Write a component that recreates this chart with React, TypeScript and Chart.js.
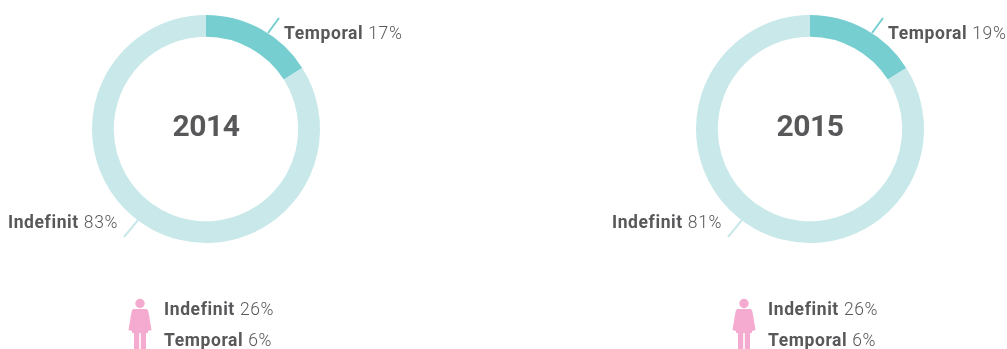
import React, { useEffect, useRef } from "react";
import { Chart, registerables } from "chart.js";

Chart.register(...registerables);

const years = ["2014", "2015"];
const categories = ["Temporal", "Indefinit"];
const temporalShare = [17, 19];
const indefinitShare = [83, 81];
const temporalDrawn = [16, 16];
const indefinitDrawn = [84, 84];
const womenIndefinit = [26, 26];
const womenTemporal = [6, 6];

const TEAL = "#76CED0";
const LIGHT = "#C8E8E9";
const TEXT = "#58585A";
const PINK = "#F5ABCF";
const FONT = "Roboto, sans-serif";

function pair(ctx: any, x: number, y: number, bold: string, value: string, alignRight = false) {
  ctx.textBaseline = "alphabetic";
  ctx.textAlign = "left";
  ctx.fillStyle = TEXT;
  const bf = `700 17.5px ${FONT}`;
  const vf = `300 17.5px ${FONT}`;
  ctx.letterSpacing = "0.6px";
  ctx.font = bf;
  const bw = ctx.measureText(bold).width;
  ctx.font = vf;
  const vw = ctx.measureText(value).width;
  const gap = 5;
  const sx = alignRight ? x - bw - gap - vw : x;
  ctx.font = bf;
  ctx.fillText(bold, sx, y);
  ctx.font = vf;
  ctx.fillText(value, sx + bw + gap, y);
  ctx.letterSpacing = "0px";
}

function woman(ctx: any, cx: number, top: number) {
  ctx.fillStyle = PINK;
  ctx.beginPath();
  ctx.arc(cx, top + 4.5, 4.7, 0, Math.PI * 2);
  ctx.fill();
  ctx.beginPath();
  ctx.moveTo(cx - 6, top + 10);
  ctx.lineTo(cx + 6, top + 10);
  ctx.quadraticCurveTo(cx + 8, top + 10, cx + 8.5, top + 13);
  ctx.lineTo(cx + 11.5, top + 31);
  ctx.lineTo(cx + 8, top + 32);
  ctx.lineTo(cx + 8, top + 34);
  ctx.lineTo(cx + 6, top + 34);
  ctx.lineTo(cx + 6, top + 50);
  ctx.lineTo(cx + 0.8, top + 50);
  ctx.lineTo(cx + 0.8, top + 34);
  ctx.lineTo(cx - 0.8, top + 34);
  ctx.lineTo(cx - 0.8, top + 50);
  ctx.lineTo(cx - 6, top + 50);
  ctx.lineTo(cx - 6, top + 34);
  ctx.lineTo(cx - 8, top + 34);
  ctx.lineTo(cx - 8, top + 32);
  ctx.lineTo(cx - 11.5, top + 31);
  ctx.lineTo(cx - 8.5, top + 13);
  ctx.quadraticCurveTo(cx - 8, top + 10, cx - 6, top + 10);
  ctx.closePath();
  ctx.fill();
}

function Donut({ index, left }: { index: number; left: number }) {
  const ref = useRef<HTMLCanvasElement>(null);
  useEffect(() => {
    const annotate = {
      id: "annotate",
      afterDraw(chart: any) {
        const { ctx } = chart;
        const arc = chart.getDatasetMeta(0).data[0];
        const cx = arc.x;
        const cy = arc.y;
        ctx.save();
        ctx.lineWidth = 2;
        ctx.strokeStyle = TEAL;
        ctx.beginPath();
        ctx.moveTo(cx + 62, cy - 96);
        ctx.lineTo(cx + 73, cy - 111);
        ctx.stroke();
        ctx.strokeStyle = LIGHT;
        ctx.beginPath();
        ctx.moveTo(cx - 68, cy + 91);
        ctx.lineTo(cx - 82, cy + 108);
        ctx.stroke();

        ctx.fillStyle = TEXT;
        ctx.font = `700 30px ${FONT}`;
        ctx.letterSpacing = "-0.5px";
        ctx.textAlign = "center";
        ctx.textBaseline = "alphabetic";
        ctx.fillText(years[index], cx, cy + 7);
        ctx.letterSpacing = "0px";

        pair(ctx, cx + 78, cy - 90, categories[0], `${temporalShare[index]}%`);
        pair(ctx, cx - 88, cy + 99, categories[1], `${indefinitShare[index]}%`, true);

        woman(ctx, cx - 66, 299);
        pair(ctx, cx - 42, 315, categories[1], `${womenIndefinit[index]}%`);
        pair(ctx, cx - 42, 346, categories[0], `${womenTemporal[index]}%`);
        ctx.restore();
      },
    };
    const chart = new Chart(ref.current!, {
      type: "doughnut",
      data: {
        labels: categories,
        datasets: [
          {
            data: [temporalDrawn[index], indefinitDrawn[index]],
            backgroundColor: [TEAL, LIGHT],
            borderWidth: 0,
          },
        ],
      },
      options: {
        animation: false,
        responsive: false,
        radius: 114,
        cutout: "80.9%",
        layout: { padding: { bottom: 91 } },
        plugins: { legend: { display: false }, tooltip: { enabled: false } },
      },
      plugins: [annotate],
    } as any);
    return () => chart.destroy();
  }, [index]);
  return (
    <canvas
      ref={ref}
      width={412}
      height={349}
      style={{ position: "absolute", left, top: 0, width: 412, height: 349 }}
    />
  );
}

export default function App() {
  return (
    <div
      style={{
        position: "fixed",
        left: 0,
        top: 0,
        width: 1007,
        height: 349,
        overflow: "hidden",
        background: "#fff",
      }}
    >
      <Donut index={0} left={0} />
      <Donut index={1} left={604} />
    </div>
  );
}
